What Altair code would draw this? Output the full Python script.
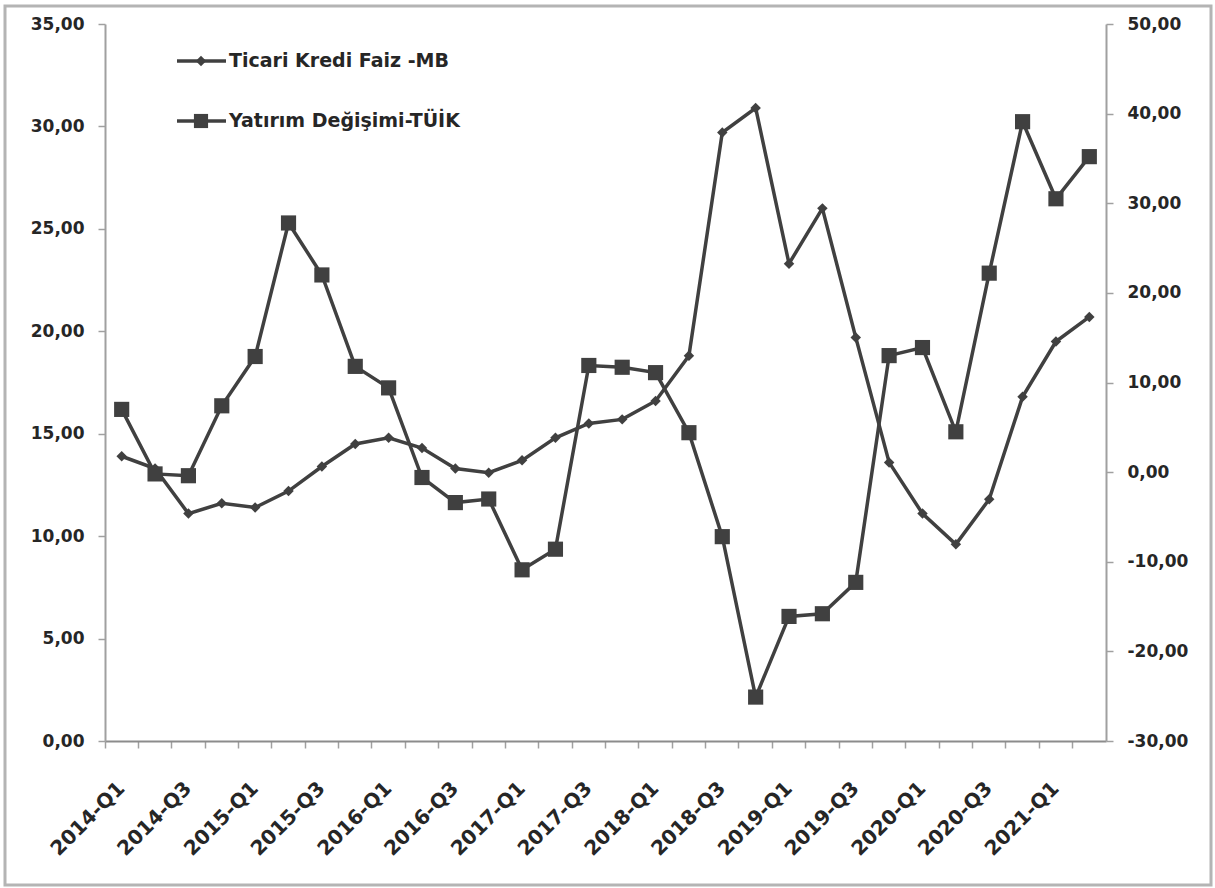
import altair as alt
import pandas as pd

quarters = [
    "2014-Q1", "2014-Q2", "2014-Q3", "2014-Q4",
    "2015-Q1", "2015-Q2", "2015-Q3", "2015-Q4",
    "2016-Q1", "2016-Q2", "2016-Q3", "2016-Q4",
    "2017-Q1", "2017-Q2", "2017-Q3", "2017-Q4",
    "2018-Q1", "2018-Q2", "2018-Q3", "2018-Q4",
    "2019-Q1", "2019-Q2", "2019-Q3", "2019-Q4",
    "2020-Q1", "2020-Q2", "2020-Q3", "2020-Q4",
    "2021-Q1", "2021-Q2",
]
faiz = [13.9, 13.3, 11.1, 11.6, 11.4, 12.2, 13.4, 14.5, 14.8, 14.3,
        13.3, 13.1, 13.7, 14.8, 15.5, 15.7, 16.6, 18.8, 29.7, 30.9,
        23.3, 26.0, 19.7, 13.6, 11.1, 9.6, 11.8, 16.8, 19.5, 20.7]
yatirim = [7.0, -0.2, -0.4, 7.4, 12.9, 27.8, 22.0, 11.8, 9.4, -0.6,
           -3.4, -3.0, -10.9, -8.6, 11.9, 11.7, 11.1, 4.4, -7.2, -25.1,
           -16.1, -15.8, -12.3, 13.0, 13.9, 4.5, 22.2, 39.1, 30.5, 35.2]
series_names = ["Ticari Kredi Faiz -MB", "Yatırım Değişimi-TÜİK"]
left_ticks = [0, 5, 10, 15, 20, 25, 30, 35]
right_ticks = [-30, -20, -10, 0, 10, 20, 30, 40, 50]

df = pd.DataFrame({"q": quarters, "faiz": faiz, "yatirim": yatirim})

C = "#404040"
FONT = "DejaVu Sans"
LBL = "#262626"
fmt = "replace(replace(format(datum.value, '.2f'), '.', ','), '\u2212', '-')"

xscale = alt.Scale(type="band", paddingInner=0, paddingOuter=0)
tick_axis = alt.Axis(orient="bottom", bandPosition=0, labels=False, ticks=True,
                     tickSize=7, tickWidth=1.5, tickColor="#a0a0a0",
                     domainColor="#8c8c8c", domainWidth=2, grid=False, title=None)
label_axis = alt.Axis(orient="bottom", values=quarters[::2], ticks=False, domain=False,
                      labelAngle=-45, labelAlign="right", labelBaseline="middle",
                      labelPadding=44, labelFont=FONT, labelFontSize=20,
                      labelFontWeight="bold", labelColor=LBL, labelOverlap=False,
                      grid=False, title=None, bandPosition=0.5)
left_axis = alt.Axis(orient="left", values=left_ticks, labelExpr=fmt, grid=False,
                     domainColor="#a0a0a0", domainWidth=2, tickColor="#a0a0a0",
                     tickSize=7, tickWidth=1.5, labelFont=FONT, labelFontSize=17,
                     labelFontWeight="bold", labelColor=LBL, labelPadding=14, title=None)
right_axis = alt.Axis(orient="right", values=right_ticks, labelExpr=fmt, grid=False,
                      domainColor="#a0a0a0", domainWidth=2, tickColor="#a0a0a0",
                      tickSize=7, tickWidth=1.5, labelFont=FONT, labelFontSize=17,
                      labelFontWeight="bold", labelColor=LBL, labelPadding=14, title=None)

ls = alt.Scale(domain=[0, 35], nice=False, zero=False)
rs = alt.Scale(domain=[-30, 50], nice=False, zero=False)

base = alt.Chart(df)
x_tick = alt.X("q:N", sort=quarters, scale=xscale, axis=tick_axis)
x_lab = alt.X("q:N", sort=quarters, scale=xscale, axis=label_axis)
x_none = alt.X("q:N", sort=quarters, scale=xscale, axis=None)

f_line = base.mark_line(color=C, strokeWidth=3.5).encode(
    x=x_tick, y=alt.Y("faiz:Q", scale=ls, axis=left_axis))
f_pts = base.mark_point(shape="diamond", filled=True, size=110, color=C, opacity=1).encode(
    x=x_none, y=alt.Y("faiz:Q", scale=ls, axis=None))
y_line = base.mark_line(color=C, strokeWidth=3.5).encode(
    x=x_lab, y=alt.Y("yatirim:Q", scale=rs, axis=right_axis))
y_pts = base.mark_point(shape="square", filled=True, size=230, color=C, opacity=1).encode(
    x=x_none, y=alt.Y("yatirim:Q", scale=rs, axis=None))

one = pd.DataFrame({"a": [0]})
leg1 = alt.Chart(pd.DataFrame({"name": [series_names[0]]}))
leg2 = alt.Chart(pd.DataFrame({"name": [series_names[1]]}))
ly1, ly2 = 37, 97
l1r = leg1.mark_rule(color=C, strokeWidth=3.5).encode(x=alt.value(72), x2=alt.value(121), y=alt.value(ly1))
l1p = leg1.mark_point(shape="diamond", filled=True, size=110, color=C, opacity=1).encode(x=alt.value(96), y=alt.value(ly1))
l1t = leg1.mark_text(align="left", baseline="middle", font=FONT, fontSize=19, fontWeight="bold", color=LBL).encode(
    x=alt.value(124), y=alt.value(ly1), text="name:N")
l2r = leg2.mark_rule(color=C, strokeWidth=3.5).encode(x=alt.value(72), x2=alt.value(121), y=alt.value(ly2))
l2p = leg2.mark_point(shape="square", filled=True, size=200, color=C, opacity=1).encode(x=alt.value(96), y=alt.value(ly2))
l2t = leg2.mark_text(align="left", baseline="middle", font=FONT, fontSize=19, fontWeight="bold", color=LBL).encode(
    x=alt.value(124), y=alt.value(ly2), text="name:N")

border = alt.Chart(one).mark_rect(fillOpacity=0, stroke="#b4b4b4", strokeWidth=3).encode(
    x=alt.value(-100), x2=alt.value(1106), y=alt.value(-18), y2=alt.value(861))

chart = alt.layer(
    border, f_line, f_pts, y_line, y_pts, l1r, l1p, l1t, l2r, l2p, l2t
).resolve_scale(y="independent").resolve_axis(x="independent").properties(
    width=1001, height=717,
    autosize=alt.AutoSizeParams(type="none"),
    padding={"left": 105, "top": 24, "right": 109, "bottom": 147},
    background="white",
).configure_view(stroke=None)

chart.save("out.html", embed_options={"renderer": "svg", "actions": False})
